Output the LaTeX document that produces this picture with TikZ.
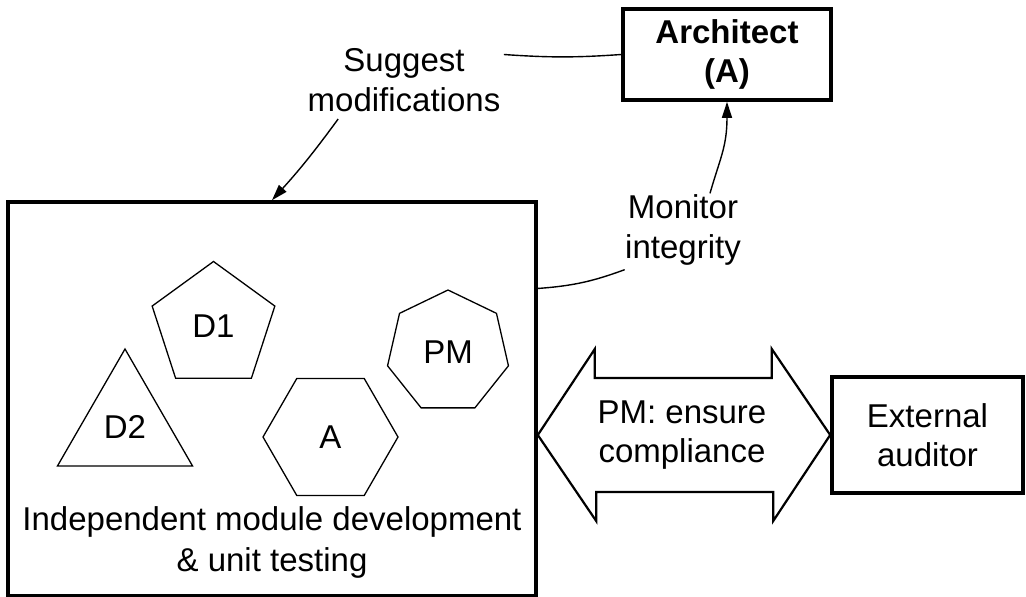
\documentclass[tikz,border=0pt]{standalone}
\usepackage{fontspec}
\setmainfont{Liberation Sans}
\usepackage{tikz}
\usetikzlibrary{arrows.meta,positioning,shapes.geometric,calc}

\newcommand{\lblfont}{\fontsize{33}{39.5}\selectfont}

\begin{document}
\begin{tikzpicture}[
        x=1pt, y=-1pt,
        box/.style={
            draw,
            line width=3.6pt,
            align=center,
            font=\lblfont
        },
        member/.style={
            draw,
            regular polygon,
            line width=1.3pt,
            inner sep=0pt,
            font=\lblfont
        },
        lbl/.style={align=center, font=\lblfont},
        conn/.style={line width=1.4pt},
        arrow/.style={conn, -{Triangle[length=16pt, width=10pt]}}
    ]
    \useasboundingbox (0,0) rectangle (1026,597);

    % Kasten
    \node[box, minimum width=528pt, minimum height=394pt] (dev) at (272,399) {};
    \node[box, minimum width=208pt, minimum height=91pt, font=\lblfont\bfseries] (arch) at (727,54.5) {Architect\\(A)};
    \node[box, minimum width=191pt, minimum height=116pt] (audit) at (927.5,435) {External\\auditor};

    % Team
    \node[member, regular polygon sides=5, minimum size=129pt] (d1) at (213.5,326) {D1};
    \node[member, regular polygon sides=3, minimum size=156pt] (d2) at (125,427) {D2};
    \node[member, regular polygon sides=6, minimum size=135pt] (modA) at (330.5,437) {A};
    \node[member, regular polygon sides=7, minimum size=124pt] (pm) at (448,352) {PM};

    \node[lbl, font=\fontsize{33}{41}\selectfont] (devtext) at (272,542) {Independent module development\\\& unit testing};

    % Beschriftungen
    \node[lbl] (suggest) at (404,80) {Suggest\\modifications};
    \node[lbl] (monitor) at (683,230) {Monitor\\integrity};

    % Verbindungen
    \draw[conn] (arch.west) to[bend left=4] (suggest.east |- arch.west);
    \draw[arrow] ($(suggest.south west)+(34,4)$) to[bend left=3] (dev.north);
    \draw[arrow] ($(monitor.north)+(27,2)$) .. controls +(10,-35) and +(0,45) .. (arch.south);
    \draw[conn] ($(dev.north east)!0.222!(dev.south east)$) to[bend right=8] ($(monitor.south west)+(3,1)$);

    % Doppelpfeil
    \draw[line width=2.2pt, line join=miter] (dev.east |- audit) -- ++(57,-86) -- ++(0,29) -- ++(177,0) -- ++(0,-29)
        -- (audit.west) -- ++(-57,86) -- ++(0,-29) -- ++(-177,0) -- ++(0,29) -- cycle;
    \node[lbl] (comply) at (682,435) {PM: ensure\\compliance};

\end{tikzpicture}
\end{document}
